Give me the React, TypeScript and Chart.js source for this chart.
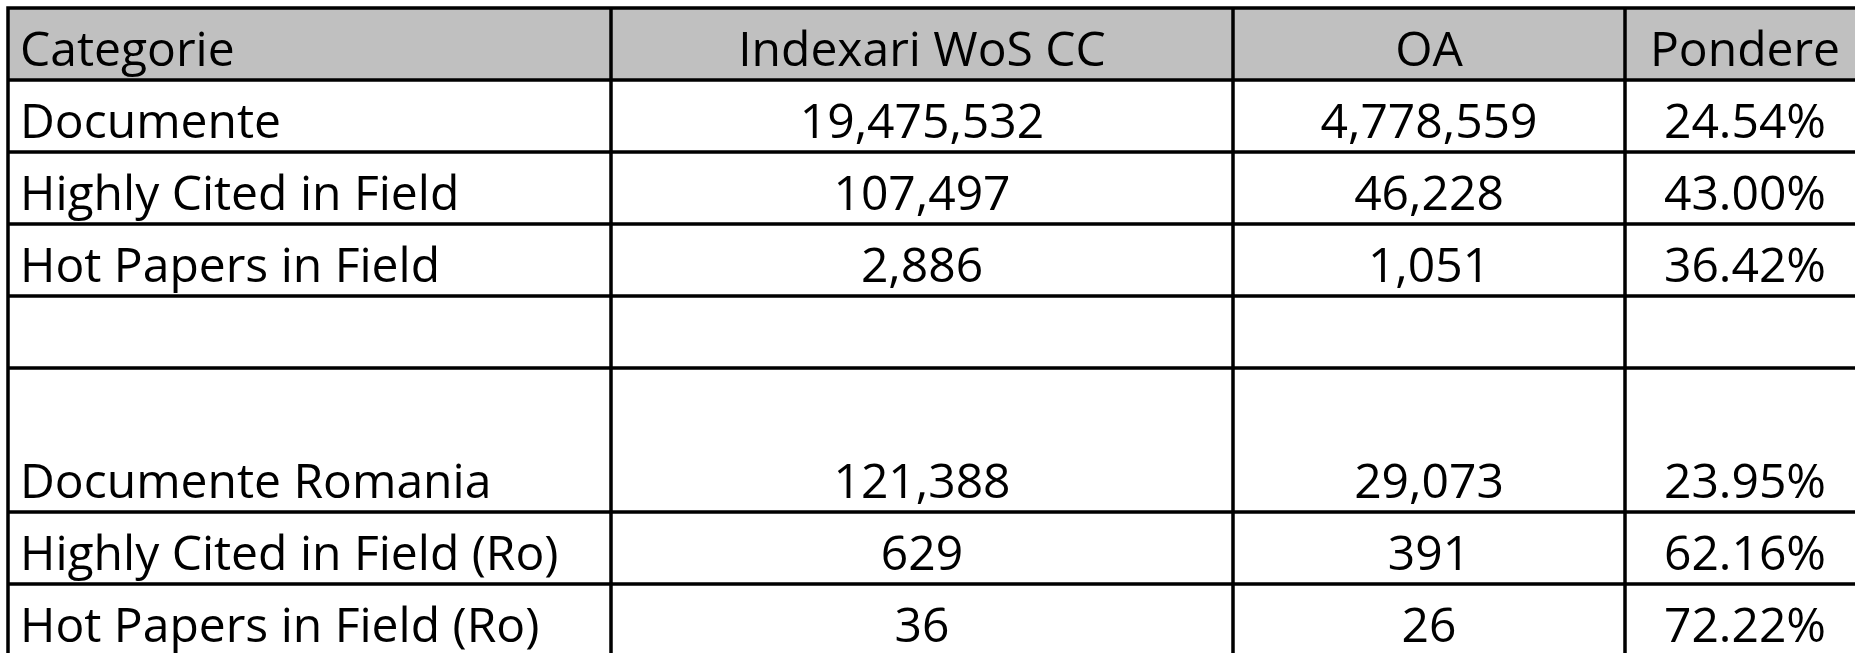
import React, { useEffect, useRef } from "react";
import { Chart, registerables } from "chart.js";

Chart.register(...registerables);

// ---- data ----
const headers = ["Categorie", "Indexari WoS CC", "OA", "Pondere"];
const categories = [
  "Documente",
  "Highly Cited in Field",
  "Hot Papers in Field",
  "",
  "Documente Romania",
  "Highly Cited in Field (Ro)",
  "Hot Papers in Field (Ro)",
];
const indexari: (number | null)[] = [19475532, 107497, 2886, null, 121388, 629, 36];
const oaValues: (number | null)[] = [4778559, 46228, 1051, null, 29073, 391, 26];
const pondere: (number | null)[] = [24.54, 43.0, 36.42, null, 23.95, 62.16, 72.22];

// ---- layout ----
const rowSpans = [1, 1, 1, 1, 2, 1, 1]; // in row units
const colWidths = [603, 622, 392, 240]; // x-scale units
const W = 1855;
const H = 653;

const fmtInt = (v: number | null) => (v == null ? "" : v.toLocaleString("en-US"));
const fmtPct = (v: number | null) => (v == null ? "" : v.toFixed(2) + "%");

const tablePlugin = {
  id: "tablePlugin",
  afterDraw(chart: any) {
    const { ctx } = chart;
    const xs = chart.scales.x;
    const ys = chart.scales.y;
    const colB: number[] = [0];
    colWidths.forEach((w) => colB.push(colB[colB.length - 1] + w));
    const rowB: number[] = [0, 1];
    rowSpans.forEach((s) => rowB.push(rowB[rowB.length - 1] + s));
    const px = (v: number) => xs.getPixelForValue(v);
    const py = (v: number) => ys.getPixelForValue(v);

    ctx.save();
    // header fill
    ctx.fillStyle = "#c0c0c0";
    ctx.fillRect(px(0), py(0), px(colB[colB.length - 1]) - px(0), py(1) - py(0));

    // text
    ctx.fillStyle = "#000";
    ctx.font = '48px "Open Sans"';
    ctx.textBaseline = "alphabetic";
    const rows: string[][] = [headers];
    categories.forEach((c, i) => {
      rows.push([c, fmtInt(indexari[i]), fmtInt(oaValues[i]), fmtPct(pondere[i])]);
    });
    rows.forEach((r, ri) => {
      const yb = py(rowB[ri + 1]) - 14;
      r.forEach((t, ci) => {
        if (!t) return;
        if (ci === 0) {
          ctx.textAlign = "left";
          ctx.fillText(t, px(colB[0]) + 12, yb);
        } else {
          ctx.textAlign = "center";
          ctx.fillText(t, (px(colB[ci]) + px(colB[ci + 1])) / 2, yb);
        }
      });
    });

    // grid lines
    ctx.strokeStyle = "#000";
    ctx.lineWidth = 3.5;
    ctx.beginPath();
    rowB.forEach((r) => {
      ctx.moveTo(px(colB[0]) - 1.75, py(r));
      ctx.lineTo(px(colB[colB.length - 1]), py(r));
    });
    colB.forEach((c) => {
      ctx.moveTo(px(c), py(0) - 1.75);
      ctx.lineTo(px(c), py(rowB[rowB.length - 1]));
    });
    ctx.stroke();
    ctx.restore();
  },
};

export default function App() {
  const ref = useRef<HTMLCanvasElement | null>(null);
  useEffect(() => {
    document.body.style.margin = "0";
    const canvas = ref.current;
    if (!canvas) return;
    const chart = new Chart(canvas, {
      type: "scatter",
      data: { datasets: [{ data: [] }] },
      options: {
        animation: false,
        responsive: false,
        devicePixelRatio: 1,
        layout: { padding: 0 },
        plugins: { legend: { display: false }, tooltip: { enabled: false } },
        scales: {
          x: { type: "linear", display: false, min: -8, max: W - 8 },
          y: { type: "linear", display: false, reverse: true, min: -8 / 72, max: (H - 8) / 72 },
        },
      },
      plugins: [tablePlugin],
    });
    return () => chart.destroy();
  }, []);
  return (
    <div style={{ width: W, height: H, background: "#fff" }}>
      <canvas ref={ref} width={W} height={H} />
    </div>
  );
}
